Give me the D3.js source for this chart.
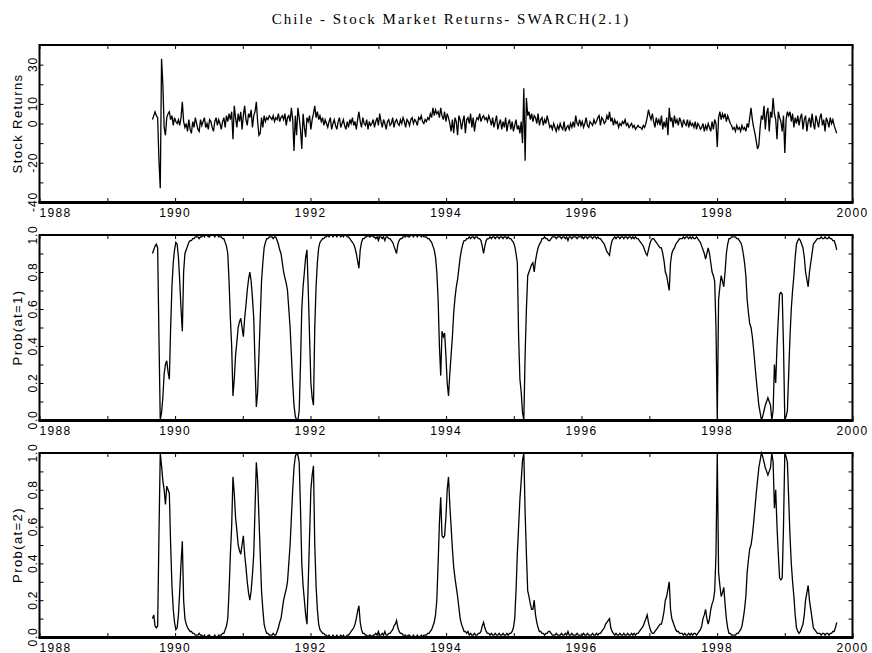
<!DOCTYPE html>
<html lang="en">
<head>
<meta charset="UTF-8">
<title>Chile - Stock Market Returns- SWARCH(2.1)</title>
<style>
    body { margin: 0; background: #fff; }
    svg { display: block; }
    .tick line { stroke: #000; stroke-width: 1; }
    .domain { display: none; }
    text { fill: #000; }
</style>
<script src="https://d3js.org/d3.v7.min.js"></script>
</head>
<body>
<div id="chart"></div>
<script>
// weekly observations, first one early September 1989
const startDate = new Date(1989, 8, 1);

const stockReturns = [
    2,4,6,4,3,-19,-33,33,20,-2,
    -6,3,5,6,2,4,-1,3,1,0,
    2,-1,3,11,1,-2,0,-4,2,-3,
    -5,1,-2,3,0,-3,-4,2,-1,1,
    3,-2,0,-3,2,1,-2,-4,1,3,
    -1,2,0,-3,1,3,-2,4,1,5,
    2,6,-8,9,3,-2,5,1,6,-3,
    4,9,2,-1,5,3,7,-2,4,6,
    11,1,-6,-5,3,-2,4,1,3,2,
    4,3,2,4,1,3,2,5,1,3,
    4,2,5,-1,3,4,1,8,2,-14,
    4,-6,8,3,-3,-13,5,-2,-7,3,
    1,4,-3,2,5,9,3,6,2,4,
    1,3,-1,2,0,-2,1,3,-3,0,
    2,-1,-3,1,3,-2,0,2,-1,-3,
    1,-2,2,0,3,-1,1,-3,2,6,
    1,-2,3,0,-1,2,-3,1,-1,0,
    2,-2,1,3,-1,5,1,-2,2,0,
    -3,1,2,-1,0,3,-2,1,2,0,
    -1,2,0,3,1,-2,2,1,-1,2,
    3,0,2,1,-1,3,2,4,1,0,
    2,1,3,2,5,3,8,4,7,5,
    6,3,8,4,2,6,1,5,3,0,
    -4,2,-5,3,1,-6,4,2,-3,1,
    4,-5,2,3,0,5,-2,3,-4,1,
    3,2,5,1,3,4,2,3,1,4,
    2,-1,3,-2,1,4,-3,0,2,-3,
    1,-2,3,-4,0,2,-3,1,-4,-1,
    2,-3,-1,-5,1,-10,18,-19,13,4,
    6,2,5,1,4,3,0,5,-1,2,
    3,-1,2,0,4,1,-2,-1,-3,0,
    -2,-4,-1,-3,0,-2,-3,1,-4,-2,
    -1,-3,0,-2,1,-2,4,0,-1,2,
    -1,1,-2,0,3,-1,-2,1,0,-1,
    2,0,1,3,4,-1,3,2,0,1,
    4,2,6,1,3,-1,2,0,1,-2,
    0,-1,1,0,2,-1,0,-2,-1,0,
    -2,-1,-3,-2,-1,-2,-2,-3,-1,-2,
    0,3,7,4,2,5,1,-2,3,0,
    2,-1,4,-3,1,-2,3,-6,8,1,
    3,-2,4,0,2,-1,3,1,-2,2,
    0,-1,2,-2,1,-1,0,-2,1,-3,
    0,-1,-3,-2,0,-4,-1,-3,0,-2,
    -4,1,-3,2,0,-12,3,6,2,5,
    3,5,1,4,2,0,-1,-3,-2,-4,
    -1,-3,-2,-4,-1,-3,-2,-4,0,-2,
    3,8,2,-2,-5,-9,-13,-11,-2,4,
    2,9,-3,5,8,-4,6,3,13,5,
    2,-8,6,3,1,-4,4,-15,2,6,
    4,6,1,5,-2,3,0,4,-1,3,
    5,-3,2,4,-4,1,3,-2,5,0,
    -3,4,1,-2,3,5,-1,2,-4,3,
    1,-2,3,0,2,-1,-3,-5
];

const probState1 = [
    .90,.92,.94,.95,.93,.45,.00,.04,.12,.25,
    .30,.32,.26,.22,.50,.72,.85,.92,.96,.95,
    .88,.75,.60,.48,.80,.90,.92,.94,.96,.97,
    .97,.98,.98,.99,.99,.99,.98,.99,.99,1.0,
    .99,1.0,1.0,.99,.99,1.0,1.0,1.0,.99,1.0,
    1.0,.99,.99,.99,.98,.98,.96,.94,.90,.75,
    .55,.40,.13,.22,.35,.42,.50,.53,.55,.50,
    .45,.55,.62,.70,.76,.80,.75,.66,.55,.30,
    .07,.15,.35,.55,.75,.85,.93,.96,.98,.98,
    .99,.99,.99,.98,.99,.99,.97,.95,.92,.90,
    .85,.80,.77,.74,.70,.60,.50,.35,.20,.08,
    .02,.00,.00,.05,.30,.60,.72,.80,.88,.92,
    .70,.45,.20,.12,.08,.50,.72,.85,.93,.96,
    .97,.98,.98,.99,.99,1.0,.99,1.0,1.0,.99,
    1.0,1.0,.99,1.0,1.0,.99,1.0,.99,1.0,1.0,
    .99,.99,.98,.97,.96,.95,.93,.90,.86,.82,
    .92,.96,.98,.98,.99,.99,1.0,.99,.99,1.0,
    .99,.99,.98,.99,.97,.99,.99,.98,.99,.97,
    .99,.99,.98,.98,.97,.96,.94,.92,.90,.95,
    .97,.98,.98,.99,.99,.99,1.0,.99,.99,1.0,
    1.0,.99,1.0,1.0,.99,1.0,1.0,.99,1.0,.99,
    .99,.99,.98,.98,.97,.96,.94,.92,.88,.80,
    .65,.40,.24,.48,.45,.47,.35,.20,.13,.25,
    .35,.45,.58,.66,.72,.76,.82,.88,.92,.95,
    .97,.97,.98,.98,.99,.98,.99,.99,.98,.99,
    .99,.98,.98,.97,.94,.90,.94,.97,.98,.98,
    .99,.98,.99,.99,.98,.99,.99,.98,.99,.99,
    .98,.99,.99,.98,.99,.98,.98,.97,.96,.94,
    .90,.85,.45,.22,.15,.04,.00,.35,.60,.78,
    .80,.82,.84,.85,.80,.86,.90,.93,.95,.96,
    .98,.98,.99,.98,.98,.97,.97,.98,.99,.99,
    .99,.98,.99,.99,.99,.98,.99,.99,.98,.99,
    .97,.99,.99,.98,.99,.99,.99,.98,.99,.99,
    .99,.99,.98,.99,.99,.98,.99,.99,.99,.98,
    .99,.99,.98,.99,.98,.98,.97,.96,.95,.93,
    .91,.90,.89,.94,.97,.98,.99,.98,.99,.99,
    .98,.99,.99,.98,.99,.99,.98,.99,.99,.98,
    .99,.98,.99,.98,.98,.97,.96,.95,.94,.92,
    .90,.89,.92,.95,.97,.98,.98,.97,.96,.95,
    .94,.93,.93,.90,.86,.80,.78,.74,.70,.85,
    .90,.92,.93,.95,.96,.97,.98,.98,.98,.99,
    .98,.99,.99,.98,.99,.98,.99,.98,.98,.99,
    .98,.97,.96,.94,.92,.90,.87,.90,.93,.90,
    .85,.80,.78,.75,.50,.00,.65,.72,.78,.75,
    .72,.80,.90,.95,.98,.98,.99,.99,.99,.99,
    .98,.98,.97,.96,.94,.90,.85,.78,.65,.58,
    .52,.50,.45,.38,.30,.22,.15,.08,.04,.00,
    .02,.05,.08,.10,.12,.10,.08,.00,.05,.30,
    .20,.40,.55,.68,.69,.68,.40,.00,.02,.05,
    .25,.45,.60,.70,.78,.88,.95,.97,.98,.97,
    .95,.93,.88,.80,.76,.72,.80,.85,.90,.95,
    .96,.97,.98,.98,.98,.99,.98,.98,.99,.98,
    .98,.99,.98,.98,.97,.97,.95,.92
];

const probState2 = [
    .10,.12,.06,.05,.06,.55,1.0,.93,.85,.80,
    .72,.82,.80,.78,.50,.28,.15,.08,.04,.05,
    .12,.25,.40,.52,.20,.10,.07,.05,.04,.03,
    .03,.02,.02,.01,.01,.01,.02,.01,.01,.00,
    .01,.00,.00,.01,.01,.00,.00,.00,.01,.00,
    .00,.01,.01,.01,.02,.02,.04,.06,.10,.25,
    .45,.60,.87,.78,.65,.58,.50,.47,.45,.50,
    .55,.45,.38,.30,.24,.20,.25,.34,.45,.70,
    .95,.85,.65,.45,.25,.15,.07,.04,.02,.02,
    .01,.01,.01,.02,.01,.01,.03,.05,.08,.10,
    .15,.20,.23,.26,.30,.40,.50,.65,.80,.92,
    .98,1.0,.99,.95,.70,.40,.28,.20,.12,.07,
    .30,.55,.80,.88,.93,.50,.28,.15,.07,.04,
    .03,.02,.02,.01,.01,.00,.01,.00,.00,.01,
    .00,.00,.01,.00,.00,.01,.00,.01,.00,.00,
    .01,.01,.02,.03,.04,.05,.07,.10,.14,.17,
    .08,.04,.02,.02,.01,.01,.00,.01,.01,.00,
    .01,.01,.02,.01,.03,.01,.01,.02,.01,.03,
    .01,.01,.02,.02,.03,.04,.06,.07,.09,.05,
    .03,.02,.02,.01,.01,.01,.00,.01,.01,.00,
    .00,.01,.00,.00,.01,.00,.00,.01,.00,.01,
    .01,.01,.02,.02,.03,.04,.06,.08,.12,.20,
    .40,.62,.76,.55,.54,.55,.65,.80,.87,.72,
    .60,.48,.38,.32,.27,.22,.16,.10,.07,.05,
    .03,.03,.02,.03,.01,.02,.01,.01,.02,.01,
    .01,.02,.02,.03,.06,.08,.05,.03,.02,.02,
    .01,.02,.01,.01,.02,.01,.01,.02,.01,.01,
    .02,.01,.01,.02,.01,.02,.02,.03,.05,.10,
    .25,.45,.60,.75,.85,.96,1.0,.68,.45,.25,
    .22,.18,.15,.15,.20,.12,.08,.05,.03,.03,
    .02,.02,.01,.02,.02,.03,.03,.02,.01,.01,
    .01,.02,.01,.01,.01,.02,.01,.01,.02,.01,
    .03,.01,.01,.02,.01,.01,.01,.02,.01,.01,
    .01,.01,.02,.01,.01,.02,.01,.01,.01,.02,
    .01,.01,.02,.01,.02,.02,.03,.04,.05,.07,
    .08,.09,.10,.05,.03,.02,.01,.02,.01,.01,
    .02,.01,.01,.02,.01,.01,.02,.01,.01,.02,
    .01,.02,.01,.02,.02,.03,.04,.05,.06,.08,
    .10,.12,.08,.05,.03,.02,.02,.03,.04,.05,
    .06,.07,.07,.10,.14,.20,.22,.26,.30,.15,
    .10,.08,.06,.04,.03,.03,.02,.02,.02,.01,
    .02,.01,.01,.02,.01,.02,.01,.02,.02,.01,
    .02,.03,.04,.06,.10,.12,.15,.10,.07,.10,
    .15,.18,.20,.25,.45,1.0,.35,.28,.22,.24,
    .27,.18,.10,.05,.02,.02,.01,.01,.01,.01,
    .02,.02,.03,.04,.06,.10,.15,.22,.35,.42,
    .48,.50,.55,.62,.70,.78,.85,.92,.96,1.0,
    .98,.95,.92,.90,.88,.90,.92,1.0,.95,.70,
    .80,.60,.45,.32,.31,.32,.60,1.0,.98,.95,
    .75,.55,.40,.30,.22,.12,.05,.03,.02,.03,
    .05,.07,.12,.20,.24,.28,.20,.15,.10,.05,
    .04,.03,.02,.02,.02,.01,.02,.02,.01,.02,
    .02,.01,.02,.02,.03,.03,.05,.08
];

const yearTicks = d3.range(1988, 2001);
const yearLabels = [1988, 1990, 1992, 1994, 1996, 1998, 2000];

const returnTicks = d3.range(-40, 41, 10);
const returnLabels = [30, 10, 0, -20, -40];
const probTicks = d3.range(0, 11).map(d => d / 10);
const probLabels = [0, 0.2, 0.4, 0.6, 0.8, 1.0];

const width = 872, height = 653;
const left = 39.5, right = 852.5;

const svg = d3.select("#chart").append("svg")
    .attr("width", width)
    .attr("height", height)
    .attr("font-family", "'Liberation Sans', Arial, sans-serif");

svg.append("text")
    .attr("x", 451)
    .attr("y", 24)
    .attr("text-anchor", "middle")
    .attr("font-family", "'Liberation Serif', 'Times New Roman', serif")
    .attr("font-size", 15)
    .attr("letter-spacing", 2)
    .text("Chile - Stock Market Returns- SWARCH(2.1)");

const x = d3.scaleTime()
    .domain([new Date(1988, 0, 1), new Date(2000, 0, 1)])
    .range([left, right]);

const weekDate = i => d3.timeWeek.offset(startDate, i);

function drawPanel(top, bottom, values, domain, ticks, labels, fmt, title) {
    const y = d3.scaleLinear().domain(domain).range([bottom, top]);
    const g = svg.append("g");

    // inward ticks on all four sides
    g.append("g").attr("transform", `translate(0,${bottom})`)
        .call(d3.axisBottom(x).tickValues(yearTicks.map(d => new Date(d, 0, 1)))
            .tickSizeInner(-4).tickSizeOuter(0).tickFormat(""));
    g.append("g").attr("transform", `translate(0,${top})`)
        .call(d3.axisTop(x).tickValues(yearTicks.map(d => new Date(d, 0, 1)))
            .tickSizeInner(-4).tickSizeOuter(0).tickFormat(""));
    g.append("g").attr("transform", `translate(${left},0)`)
        .call(d3.axisLeft(y).tickValues(ticks).tickSizeInner(-4).tickSizeOuter(0).tickFormat(""));
    g.append("g").attr("transform", `translate(${right},0)`)
        .call(d3.axisRight(y).tickValues(ticks).tickSizeInner(-4).tickSizeOuter(0).tickFormat(""));

    const line = d3.line()
        .x((d, i) => x(weekDate(i)))
        .y(d => y(d));

    g.append("path")
        .datum(values)
        .attr("fill", "none")
        .attr("stroke", "#000")
        .attr("stroke-width", 1.3)
        .attr("d", line);

    // frame
    g.append("rect")
        .attr("x", left).attr("y", top)
        .attr("width", right - left).attr("height", bottom - top)
        .attr("fill", "none").attr("stroke", "#000").attr("stroke-width", 2);
    g.append("line")
        .attr("x1", left - 1).attr("x2", right + 1)
        .attr("y1", bottom + 0.5).attr("y2", bottom + 0.5)
        .attr("stroke", "#000").attr("stroke-width", 3);

    // year labels
    g.selectAll(".xl").data(yearLabels).enter().append("text")
        .attr("x", d => x(new Date(d, 0, 1)))
        .attr("y", bottom + 14.5)
        .attr("text-anchor", (d, i) => i === 0 ? "start" : "middle")
        .attr("font-size", 12)
        .attr("letter-spacing", 1.3)
        .text(d => d);

    // y labels, rotated
    g.selectAll(".yl").data(labels).enter().append("text")
        .attr("transform", d => `translate(36.5,${y(d)}) rotate(-90)`)
        .attr("text-anchor", "middle")
        .attr("font-size", 12)
        .attr("letter-spacing", 0.8)
        .text(fmt);

    g.append("text")
        .attr("transform", `translate(21.5,${(top + bottom) / 2}) rotate(-90)`)
        .attr("text-anchor", "middle")
        .attr("font-size", 13)
        .attr("letter-spacing", 1.4)
        .text(title);
}

drawPanel(45, 202, stockReturns, [-40, 40], returnTicks, returnLabels, d => d, "Stock Returns");
drawPanel(235, 420, probState1, [0, 1], probTicks, probLabels, d3.format(".1f"), "Prob(at=1)");
drawPanel(453, 637, probState2, [0, 1], probTicks, probLabels, d3.format(".1f"), "Prob(at=2)");
</script>
</body>
</html>
